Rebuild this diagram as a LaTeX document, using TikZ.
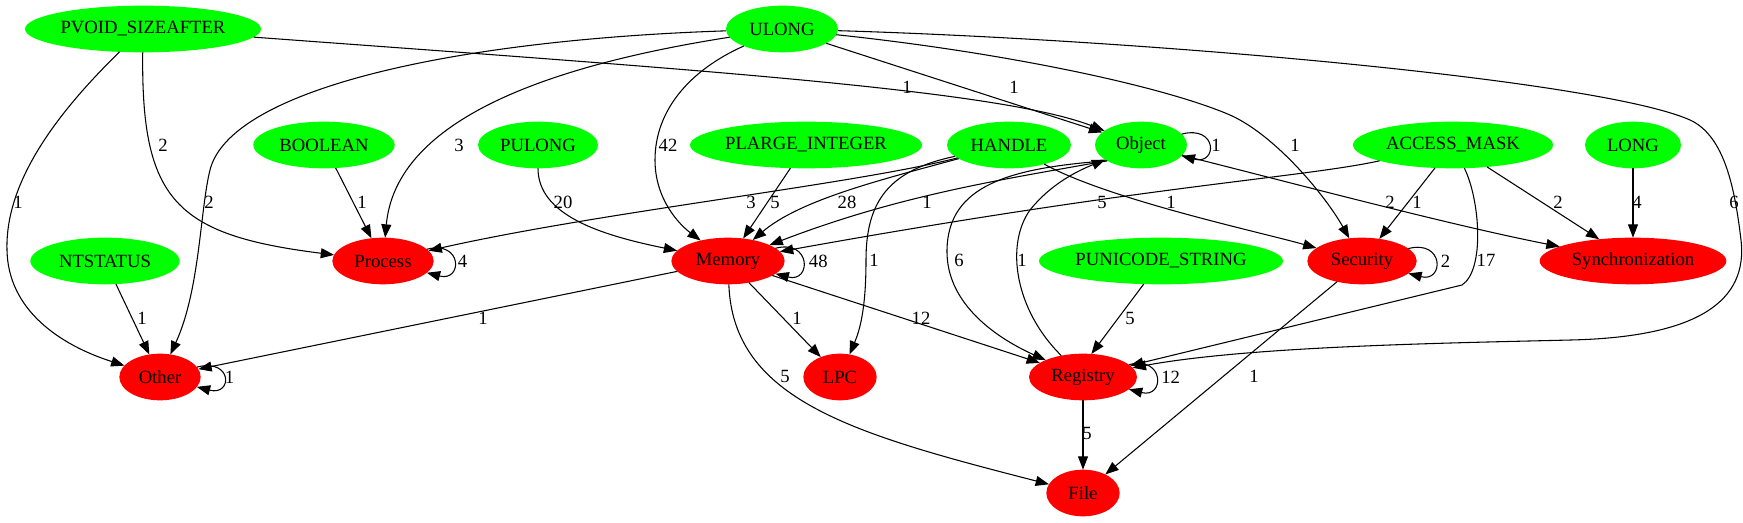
\documentclass[tikz,border=0pt]{standalone}
\usepackage{fontspec}
\setmainfont{Liberation Serif}
\usetikzlibrary{arrows.meta,shapes.geometric}
\begin{document}
\begin{tikzpicture}[x=0.75pt,y=-0.75pt,
      font=\fontsize{14}{16}\selectfont,
      tnode/.style={ellipse, fill=green, inner sep=0pt, outer sep=0pt, minimum height=35pt},
      cnode/.style={ellipse, fill=red, inner sep=0pt, outer sep=0pt, minimum height=35pt},
      link/.style={draw, line width=0.8pt, -{Triangle[length=10pt,width=7.5pt]}},
      elab/.style={inner sep=0pt}]
   \useasboundingbox (0,0) rectangle (1743,523);
   \def \Types {
      PV/143/29/177/PVOID\_SIZEAFTER,
      UL/782/29/84/ULONG,
      BO/324/145/106/BOOLEAN,
      PU/538/145/90/PULONG,
      PL/806/145/174/PLARGE\_INTEGER,
      HA/1009/145/93/HANDLE,
      OB/1141/145/69/Object,
      AM/1453/145/150/ACCESS\_MASK,
      LO/1633/145/72/LONG,
      NT/105/261/112/NTSTATUS,
      PS/1161/261/183/PUNICODE\_STRING}
   \def \Cats {
      PR/383/261/76/Process,
      ME/728/261/85/Memory,
      SE/1362/261/82/Security,
      SY/1633/261/140/Synchronization,
      OT/160/377/61/Other,
      LP/840/377/55/LPC,
      RE/1083/377/81/Registry,
      FI/1083/493/55/File}
   \foreach \n / \x / \y / \w / \t in \Types {
      \node[tnode, minimum width=\w pt] (\n) at (\x, \y) {\t};
   }
   \foreach \n / \x / \y / \w / \t in \Cats {
      \node[cnode, minimum width=\w pt] (\n) at (\x, \y) {\t};
   }
   % straight edges: from/to/label x/label y/count
   \def \Lines {
      UL/OB/1014/87/1,
      BO/PR/362/202/1,
      PL/ME/775/202/5,
      AM/SE/1417/202/1,
      AM/SY/1558/202/2,
      LO/SY/1637/202/4,
      NT/OT/142/318/1,
      ME/OT/483/318/1,
      ME/LP/797/318/1,
      ME/RE/921/318/12,
      SE/FI/1254/376/1,
      RE/FI/1087/433/5}
   \foreach \u / \v / \lx / \ly / \w in \Lines {
      \draw[link] (\u) -- (\v) node[elab] (l\u\v) at (\lx, \ly) {\w};
   }
   % self loops
   \def \Loops {OB/1, PR/4, ME/48, SE/2, RE/12, OT/1}
   \foreach \n / \w in \Loops {
      \draw[link] (\n.15) .. controls +(27pt,7pt) and +(27pt,-7pt) .. (\n.-15);
      \node[elab, anchor=west] (l\n) at ([xshift=18pt]\n.east) {\w};
   }
   % curved edges
   \draw[link] (PV) .. controls (60,110) and (5,180) .. (7,250)
      .. controls (8,310) and (60,345) .. (OT)
      node[elab] (lPVOT) at (18,202) {1};
   \draw[link] (PV) .. controls (141,200) and (175,235) .. (PR)
      node[elab] (lPVPR) at (163,145) {2};
   \draw[link] (PV) .. controls (700,70) and (1000,90) .. (OB)
      node[elab] (lPVOB) at (907,87) {1};
   \draw[link] (UL) .. controls (450,40) and (230,90) .. (210,170)
      .. controls (200,210) and (200,290) .. (OT)
      node[elab] (lULOT) at (209,202) {2};
   \draw[link] (UL) .. controls (520,70) and (395,130) .. (PR)
      node[elab] (lULPR) at (459,145) {3};
   \draw[link] (UL) .. controls (690,70) and (655,110) .. (655,160)
      .. controls (655,200) and (680,225) .. (ME)
      node[elab] (lULME) at (668,145) {42};
   \draw[link] (UL) .. controls (1000,52) and (1160,85) .. (1230,115)
      .. controls (1275,135) and (1325,195) .. (SE)
      node[elab] (lULSE) at (1295,145) {1};
   \draw[link] (UL) .. controls (1150,40) and (1600,80) .. (1690,120)
      .. controls (1725,136) and (1735,190) .. (1741,240)
      .. controls (1748,300) and (1700,337) .. (1571,340)
      .. controls (1451,343) and (1250,346) .. (RE)
      node[elab] (lULRE) at (1734,202) {6};
   \draw[link] (PU) .. controls (538,215) and (600,235) .. (ME)
      node[elab] (lPUME) at (563,202) {20};
   \draw[link] (HA) .. controls (850,185) and (600,212) .. (PR)
      node[elab] (lHAPR) at (751,202) {3};
   \draw[link] (HA) .. controls (880,180) and (800,200) .. (ME)
      node[elab] (lHAME) at (847,202) {28};
   \draw[link] (HA) .. controls (890,170) and (866,200) .. (866,260)
      .. controls (866,300) and (862,325) .. (LP)
      node[elab] (lHALP) at (874,260) {1};
   \draw[link] (HA) .. controls (1110,200) and (1260,232) .. (SE)
      node[elab] (lHASE) at (1171,202) {1};
   \draw[link] (OB.205) .. controls (1000,180) and (900,195) .. (ME)
      node[elab] (lOBME) at (927,202) {1};
   \draw[link] (OB.205) .. controls (1010,168) and (948,185) .. (947,250)
      .. controls (946,300) and (990,335) .. (RE)
      node[elab] (lOBRE) at (959,260) {6};
   \draw[link] (RE) .. controls (1015,310) and (1005,245) .. (1030,210)
      .. controls (1050,185) and (1075,172) .. (OB)
      node[elab] (lREOB) at (1022,260) {1};
   \draw[link] (OB) .. controls (1300,185) and (1450,225) .. (SY)
      node[elab] (lOBSY) at (1390,202) {2};
   \draw[link] (AM) .. controls (1300,178) and (1150,185) .. (ME)
      node[elab] (lAMME) at (1102,202) {5};
   \draw[link] (AM) .. controls (1480,200) and (1485,270) .. (1462,285) -- (RE)
      node[elab] (lAMRE) at (1486,260) {17};
   \draw[link] (ME) .. controls (733,400) and (853,434) .. (FI)
      node[elab] (lMEFI) at (785,376) {5};
   \draw[link] (PS) -- (RE.70)
      node[elab] (lPSRE) at (1130,318) {5};
\end{tikzpicture}
\end{document}
